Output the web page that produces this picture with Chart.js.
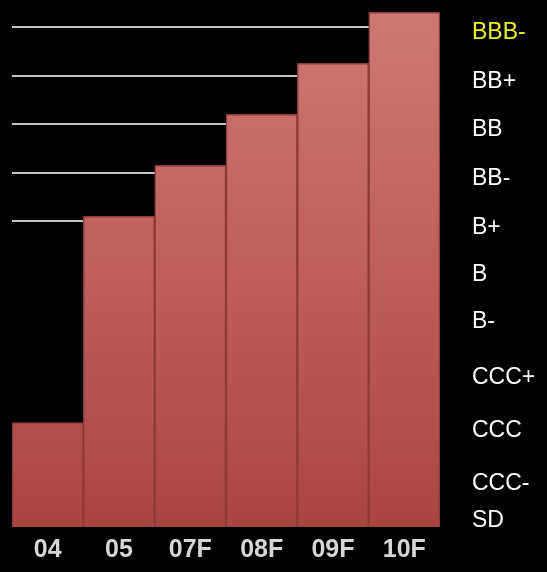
<!DOCTYPE html>
<html>
<head>
<meta charset="utf-8">
<script src="https://cdn.jsdelivr.net/npm/chart.js@4/dist/chart.umd.min.js"></script>
<style>
  body { margin: 0; background: #000; }
  #wrap { width: 547px; height: 572px; }
</style>
</head>
<body>
<div id="wrap"><canvas id="myChart" width="547" height="572"></canvas></div>
<script>
// Años (F = previsión)
const years = ['04', '05', '07F', '08F', '09F', '10F'];
// Escala de calificación, de abajo hacia arriba
const ratings = ['SD', 'CCC-', 'CCC', 'CCC+', 'B-', 'B', 'B+', 'BB-', 'BB', 'BB+', 'BBB-'];
// Dónde cae cada etiqueta de calificación en el eje
const ratingLevels = [-0.05, 0.72, 1.8, 2.9, 4.05, 5.03, 6, 7, 8, 9, 10];
// Altura de cada barra en pasos de calificación
const ratingValues = [1.85, 6.1, 7.15, 8.2, 9.25, 10.3];
// Líneas de la rejilla que se ven (las de abajo no aparecen)
const visibleGrid = ['B+', 'BB-', 'BB', 'BB+', 'BBB-'];

const yMin = -0.3;
const yMax = 10.35;

function barGradient(context) {
    const chart = context.chart;
    const area = chart.chartArea;
    if (!area) return '#b85a55';
    const g = chart.ctx.createLinearGradient(0, area.top, 0, area.bottom);
    g.addColorStop(0, '#cd7874');
    g.addColorStop(0.5, '#bf605b');
    g.addColorStop(1, '#a94540');
    return g;
}

function ratingAt(value) {
    const i = ratingLevels.indexOf(value);
    return i >= 0 ? ratings[i] : '';
}

function main() {
    const config = {
        type: 'bar',
        data: {
            labels: years,
            datasets: [{
                data: ratingValues,
                base: yMin,
                backgroundColor: barGradient,
                borderColor: '#8e3a36',
                borderWidth: 1.5,
                barPercentage: 1,
                categoryPercentage: 1
            }]
        },
        options: {
            responsive: false,
            animation: false,
            layout: { padding: { left: 12, top: 10, right: 0, bottom: 0 } },
            plugins: {
                legend: { display: false },
                tooltip: { enabled: false }
            },
            scales: {
                x: {
                    grid: { display: false, drawTicks: false },
                    border: { display: false },
                    ticks: {
                        color: '#d6d6d6',
                        padding: 8,
                        font: { family: 'Liberation Sans', size: 25, weight: 'bold' }
                    },
                    afterFit: scale => {
                        scale.height = 45;
                        scale.paddingLeft = 0;
                        scale.paddingRight = 0;
                    }
                },
                y: {
                    position: 'right',
                    min: yMin,
                    max: yMax,
                    afterBuildTicks: scale => {
                        scale.ticks = ratingLevels.map(v => ({ value: v }));
                    },
                    afterFit: scale => {
                        scale.width = 107;
                        scale.paddingTop = 0;
                        scale.paddingBottom = 0;
                    },
                    grid: {
                        drawTicks: false,
                        lineWidth: 2,
                        color: ctx => {
                            const name = ctx.tick ? ratingAt(ctx.tick.value) : '';
                            return visibleGrid.includes(name) ? '#c4c4c4' : 'rgba(0,0,0,0)';
                        }
                    },
                    border: { display: false },
                    ticks: {
                        padding: 32,
                        labelOffset: 6,
                        color: ctx => ratingAt(ctx.tick.value) === 'BBB-' ? '#f2f200' : '#ffffff',
                        font: { family: 'Liberation Sans', size: 23 },
                        callback: value => ratingAt(value)
                    }
                }
            }
        }
    };

    new Chart(document.getElementById('myChart'), config);
}

document.addEventListener('DOMContentLoaded', function () {
    main();
});
</script>
</body>
</html>
